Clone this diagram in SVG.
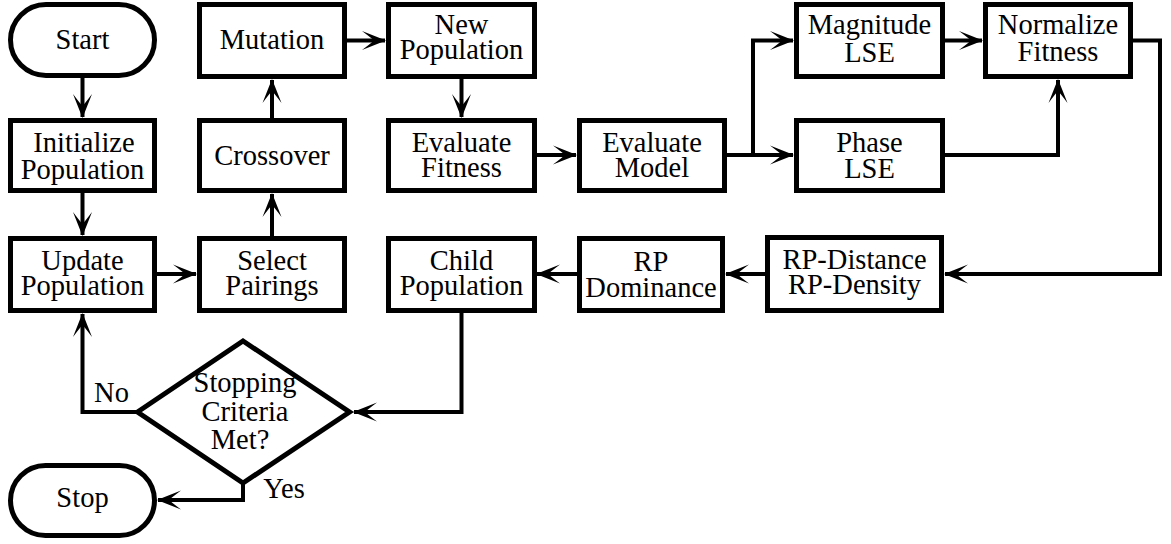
<svg xmlns="http://www.w3.org/2000/svg" width="1171" height="544" viewBox="0 0 1171 544">
<style>
.box{fill:#fff;stroke:#000;stroke-width:5}
.t{font-family:'Liberation Serif','Times New Roman',serif;font-size:28.5px;fill:#000;text-anchor:middle}
.c{fill:none;stroke:#000;stroke-width:4;marker-end:url(#ah)}
</style>
<defs>
<marker id="ah" markerUnits="userSpaceOnUse" markerWidth="30" markerHeight="24" viewBox="-24 -12 26 24" refX="0" refY="0" orient="auto" overflow="visible">
<path d="M1,0 L-23,-9.5 Q-13,-2 -11,0 Q-13,2 -23,9.5 Z" fill="#000"/>
</marker>
</defs>
<rect width="1171" height="544" fill="#fff"/>
<g id="connectors">
<path class="c" d="M82.5,78 V117"/>
<path class="c" d="M82.5,192 V235"/>
<path class="c" d="M157,274 H196"/>
<path class="c" d="M272,236 V194"/>
<path class="c" d="M272,118 V80"/>
<path class="c" d="M347,40.5 H385"/>
<path class="c" d="M461.5,79 V117"/>
<path class="c" d="M537,155 H576"/>
<path class="c" d="M727,155 H753 V40.5 H793"/>
<path class="c" d="M727,155 H793"/>
<path class="c" d="M945,40.5 H982"/>
<path class="c" d="M945,155 H1058 V80"/>
<path class="c" d="M1133,40.5 H1160 V274 H945"/>
<path class="c" d="M765,274 H726"/>
<path class="c" d="M577,274 H537"/>
<path class="c" d="M461.5,313 V412 H354"/>
<path class="c" d="M138,412 H82.5 V314"/>
<path class="c" d="M243,483 V500 H158"/>
</g>
<g id="start"><rect class="box" x="10.5" y="4.5" width="144" height="71" rx="35.5"/><text class="t" x="82.5" y="49">Start</text></g>
<g id="initialize"><rect class="box" x="10.5" y="120.5" width="144" height="70"/><text class="t" x="84" y="152">Initialize</text><text class="t" x="82.5" y="179">Population</text></g>
<g id="update"><rect class="box" x="10.5" y="238.5" width="144" height="72"/><text class="t" x="82.5" y="270">Update</text><text class="t" x="82.5" y="295">Population</text></g>
<g id="stop"><rect class="box" x="10.5" y="465.5" width="144" height="70" rx="35"/><text class="t" x="82.5" y="507">Stop</text></g>
<g id="mutation"><rect class="box" x="199.5" y="4.5" width="145" height="72"/><text class="t" x="272" y="49">Mutation</text></g>
<g id="crossover"><rect class="box" x="199.5" y="120.5" width="145" height="70"/><text class="t" x="272" y="165">Crossover</text></g>
<g id="select"><rect class="box" x="199.5" y="238.5" width="145" height="72"/><text class="t" x="272" y="270">Select</text><text class="t" x="272" y="295">Pairings</text></g>
<g id="newpop"><rect class="box" x="388.5" y="4.5" width="146" height="72"/><text class="t" x="461.5" y="34">New</text><text class="t" x="461.5" y="59">Population</text></g>
<g id="evalfit"><rect class="box" x="388.5" y="120.5" width="146" height="70"/><text class="t" x="461.5" y="152">Evaluate</text><text class="t" x="461.5" y="177">Fitness</text></g>
<g id="child"><rect class="box" x="388.5" y="238.5" width="146" height="72"/><text class="t" x="461.5" y="270">Child</text><text class="t" x="461.5" y="295">Population</text></g>
<g id="evalmodel"><rect class="box" x="579.5" y="120.5" width="145" height="70"/><text class="t" x="652" y="152">Evaluate</text><text class="t" x="652" y="177">Model</text></g>
<g id="rpdom"><rect class="box" x="579.5" y="238.5" width="143" height="72"/><text class="t" x="651" y="271">RP</text><text class="t" x="651" y="297">Dominance</text></g>
<g id="magnitude"><rect class="box" x="796.5" y="4.5" width="146" height="72"/><text class="t" x="869.5" y="34">Magnitude</text><text class="t" x="869.5" y="62">LSE</text></g>
<g id="phase"><rect class="box" x="796.5" y="120.5" width="146" height="70"/><text class="t" x="869.5" y="152">Phase</text><text class="t" x="869.5" y="178">LSE</text></g>
<g id="rpdist"><rect class="box" x="767.5" y="237.5" width="174" height="73"/><text class="t" x="854.5" y="269">RP-Distance</text><text class="t" x="854.5" y="294">RP-Density</text></g>
<g id="normalize"><rect class="box" x="985.5" y="4.5" width="145" height="72"/><text class="t" x="1058" y="34">Normalize</text><text class="t" x="1058" y="61">Fitness</text></g>
<g id="decision"><polygon class="box" points="137.5,412 243,341 349.5,412 243,483"/><text class="t" x="245" y="392">Stopping</text><text class="t" x="245" y="421">Criteria</text><text class="t" x="240" y="449">Met?</text></g>
<g id="labels"><text class="t" x="111.5" y="402">No</text><text class="t" x="284" y="498">Yes</text></g>
</svg>
